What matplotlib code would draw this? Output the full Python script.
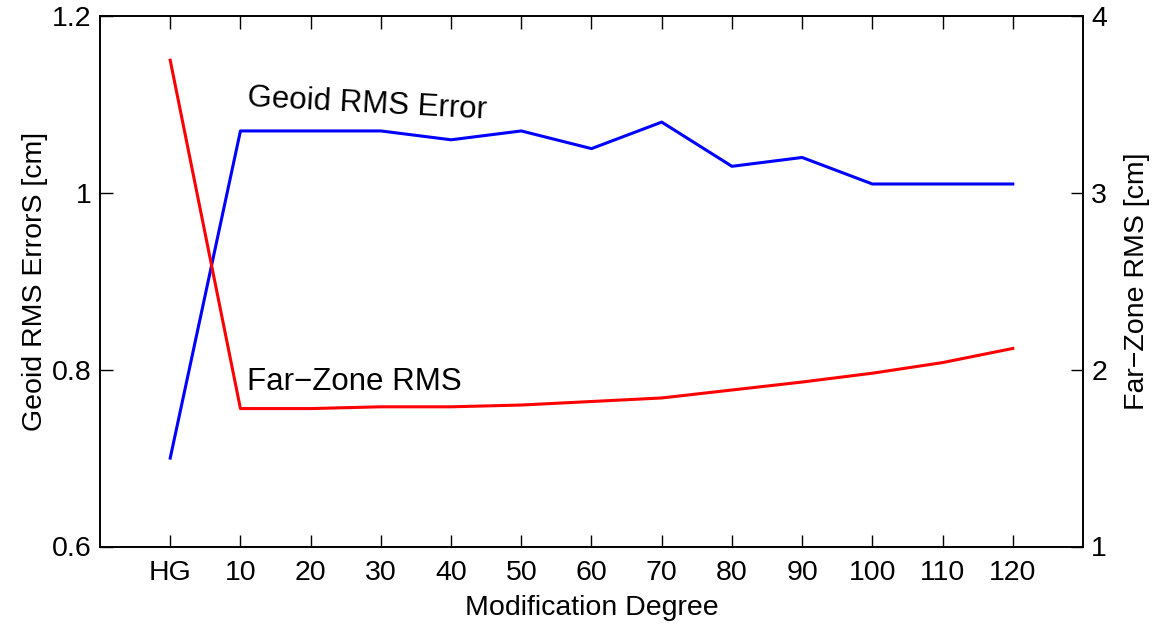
import matplotlib.pyplot as plt
import numpy as np

plt.rcParams['font.family'] = ['Liberation Sans', 'DejaVu Sans']

# Modification degree categories (HG = Hotine-Gauss kernel, no modification)
degrees = ['HG', '10', '20', '30', '40', '50', '60', '70', '80', '90', '100', '110', '120']
geoid_rms = [0.70, 1.07, 1.07, 1.07, 1.06, 1.07, 1.05, 1.08, 1.03, 1.04, 1.01, 1.01, 1.01]
farzone_rms = [3.75, 1.78, 1.78, 1.79, 1.79, 1.80, 1.82, 1.84, 1.885, 1.93, 1.98, 2.04, 2.12]

x = np.arange(len(degrees))

fig = plt.figure(figsize=(11.56, 6.24), dpi=100)
ax = fig.add_axes([100 / 1156, 1 - 546.5 / 624, 983 / 1156, 530.5 / 624])
ax2 = ax.twinx()

ax.plot(x, geoid_rms, color='#0000ff', lw=2.2)
ax2.plot(x, farzone_rms, color='#ff0000', lw=2.2)

ax.set_xlim(-1, 13)
ax.set_ylim(0.6, 1.2)
ax.set_yticks([0.6, 0.8, 1.0, 1.2])
ax.set_yticklabels(['0.6', '0.8', '1', '1.2'])
ax2.set_ylim(1, 4)
ax2.set_yticks([1, 2, 3, 4])

ax.set_xticks(x)
ax.set_xticklabels(degrees)

fs = 20.5
ax.tick_params(axis='x', direction='in', length=9, width=1, top=True, labelsize=fs, pad=10)
ax.tick_params(axis='y', direction='in', length=9, width=1, labelsize=fs, pad=6)
ax2.tick_params(axis='y', direction='in', length=9, width=1, labelsize=fs, pad=6)
for a in (ax, ax2):
    for s in a.spines.values():
        s.set_linewidth(1.2)

ax.set_xlabel('Modification Degree', fontsize=fs, labelpad=6)
ax.set_ylabel('Geoid RMS ErrorS [cm]', fontsize=fs, labelpad=3)
ax2.set_ylabel('Far\u2212Zone RMS [cm]', fontsize=fs, labelpad=12)

ax.text(1.094, 1.098, 'Geoid RMS Error', fontsize=22.5, rotation=-3,
        rotation_mode='anchor', ha='left', va='baseline')
ax2.text(1.094, 1.885, 'Far\u2212Zone RMS', fontsize=22.5, ha='left', va='baseline')

fig.savefig('out.png', dpi=100)
